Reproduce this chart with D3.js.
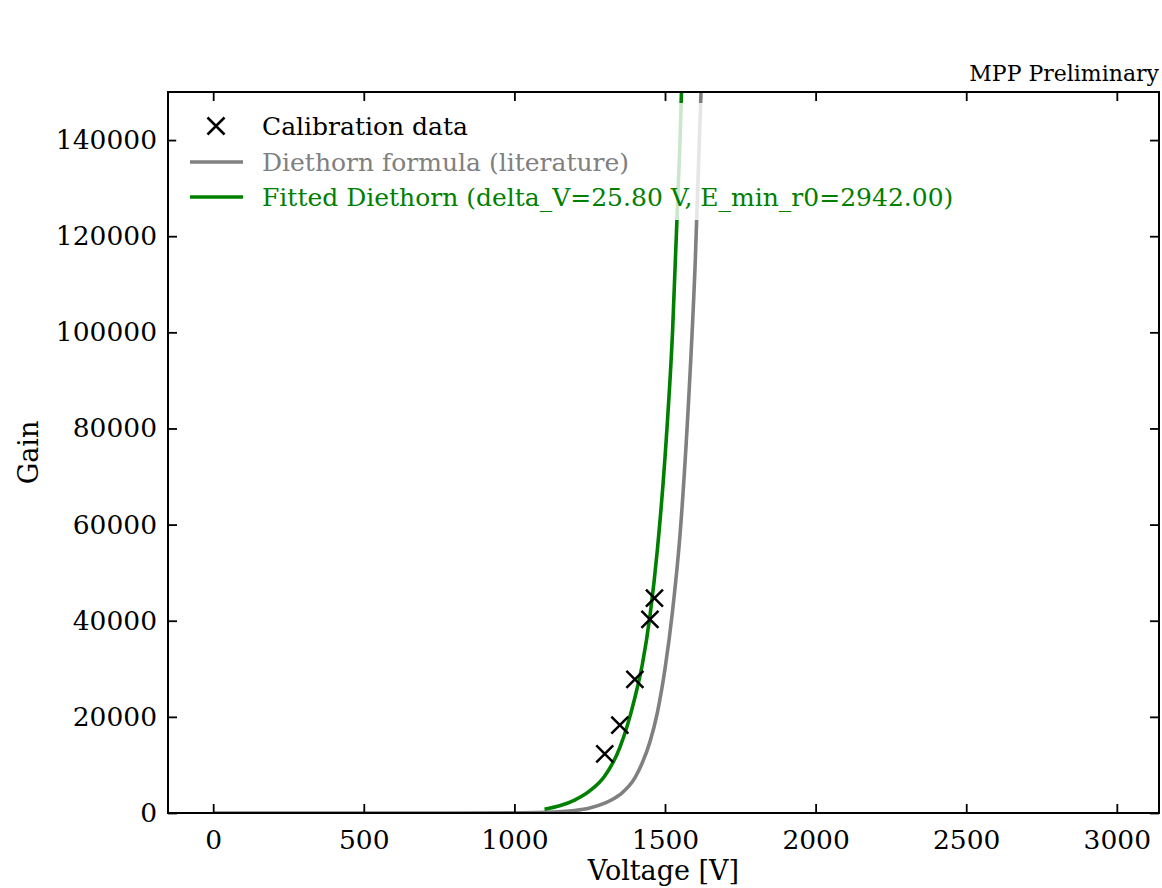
<!DOCTYPE html>
<html><head><meta charset="utf-8">
<script src="https://cdn.jsdelivr.net/npm/d3@7"></script>
<style>
body{margin:0;background:#fff;}
svg text{font-family:"DejaVu Serif",serif;}
</style></head>
<body><svg id="chart" width="1162" height="888"></svg>
<script>
// Calibration data (crosses)
const calibV = [1300, 1350, 1400, 1450, 1465];
const calibG = [12300, 18300, 27800, 40300, 44700];
// Diethorn formula (literature) - grey curve
const litV = [0, 500, 800, 1000, 1100, 1200, 1250, 1300, 1350, 1400, 1425, 1450, 1475, 1500, 1525, 1550, 1575, 1600, 1625, 1650];
const litG = [0, 0, 10, 40, 140, 530, 1050, 2050, 3800, 7300, 10500, 14800, 21000, 30000, 42000, 58000, 82000, 114000, 160000, 225000];
// Fitted Diethorn - green curve
const fitV = [1100, 1150, 1200, 1250, 1300, 1350, 1400, 1425, 1450, 1475, 1500, 1525, 1550, 1575];
const fitG = [800, 1500, 2700, 4600, 7700, 13600, 24000, 31000, 41000, 55000, 74000, 100000, 140000, 195000];
const xTicks = [0, 500, 1000, 1500, 2000, 2500, 3000];
const yTicks = [0, 20000, 40000, 60000, 80000, 100000, 120000, 140000];
const legendLabels = ["Calibration data", "Diethorn formula (literature)", "Fitted Diethorn (delta_V=25.80 V, E_min_r0=2942.00)"];
const colors = {calib: "#000000", lit: "#808080", fit: "#008000"};

const svg = d3.select("#chart");
const L = 168, R = 1159, T = 92, B = 813;
const x = d3.scaleLinear().domain([-150, 3140]).range([L, R]);
const y = d3.scaleLinear().domain([0, 150000]).range([B, T]);

svg.append("defs").append("clipPath").attr("id", "clip")
  .append("rect").attr("x", L).attr("y", T).attr("width", R - L).attr("height", B - T);

const g = svg.append("g").attr("clip-path", "url(#clip)");
const line = d3.line().x(d => x(d[0])).y(d => y(d[1])).curve(d3.curveMonotoneX);

g.append("path").datum(litV.map((v, i) => [v, litG[i]]))
  .attr("d", line).attr("fill", "none").attr("stroke", colors.lit).attr("stroke-width", 3.6);
g.append("path").datum(fitV.map((v, i) => [v, fitG[i]]))
  .attr("d", line).attr("fill", "none").attr("stroke", colors.fit).attr("stroke-width", 3.6);

const ms = 8.5;
calibV.forEach((v, i) => {
  const cx = x(v), cy = y(calibG[i]);
  g.append("path").attr("d", `M${cx-ms},${cy-ms}L${cx+ms},${cy+ms}M${cx-ms},${cy+ms}L${cx+ms},${cy-ms}`)
    .attr("stroke", colors.calib).attr("stroke-width", 2.5).attr("fill", "none");
});

// axes with inward ticks
const tickLen = 9;
const fs = 26.5;
const axB = svg.append("g").attr("transform", `translate(0,${B})`)
  .call(d3.axisBottom(x).tickValues(xTicks).tickSizeInner(-tickLen).tickSizeOuter(0).tickPadding(17).tickFormat(d3.format("d")));
const axT = svg.append("g").attr("transform", `translate(0,${T})`)
  .call(d3.axisTop(x).tickValues(xTicks).tickSizeInner(-tickLen).tickSizeOuter(0).tickFormat(""));
const axL = svg.append("g").attr("transform", `translate(${L},0)`)
  .call(d3.axisLeft(y).tickValues(yTicks).tickSizeInner(-tickLen).tickSizeOuter(0).tickPadding(11).tickFormat(d3.format("d")));
const axR = svg.append("g").attr("transform", `translate(${R},0)`)
  .call(d3.axisRight(y).tickValues(yTicks).tickSizeInner(-tickLen).tickSizeOuter(0).tickFormat(""));
[axB, axT, axL, axR].forEach(a => {
  a.select(".domain").remove();
  a.selectAll(".tick line").attr("stroke", "#000").attr("stroke-width", 1.8);
  a.selectAll("text").attr("font-family", "DejaVu Serif").attr("font-size", fs).attr("fill", "#000");
});

// Legend with semi-transparent white background
const lg = svg.append("g");
lg.append("rect").attr("x", 176).attr("y", 103).attr("width", 786).attr("height", 117)
  .attr("fill", "#fff").attr("fill-opacity", 0.8);
const rows = [126, 162, 197];
{
  const cx = 216, cy = rows[0];
  lg.append("path").attr("d", `M${cx-ms},${cy-ms}L${cx+ms},${cy+ms}M${cx-ms},${cy+ms}L${cx+ms},${cy-ms}`)
    .attr("stroke", colors.calib).attr("stroke-width", 2.5);
}
lg.append("line").attr("x1", 190).attr("x2", 243).attr("y1", rows[1]).attr("y2", rows[1]).attr("stroke", colors.lit).attr("stroke-width", 3.6);
lg.append("line").attr("x1", 190).attr("x2", 243).attr("y1", rows[2]).attr("y2", rows[2]).attr("stroke", colors.fit).attr("stroke-width", 3.6);
const lcols = [colors.calib, colors.lit, colors.fit];
legendLabels.forEach((t, i) => {
  lg.append("text").attr("x", 262).attr("y", rows[i]).attr("dy", "0.35em")
    .attr("font-size", 25).attr("fill", lcols[i]).text(t);
});

// frame
svg.append("rect").attr("x", L).attr("y", T).attr("width", R - L).attr("height", B - T)
  .attr("fill", "none").attr("stroke", "#000").attr("stroke-width", 2);

// labels
svg.append("text").attr("x", (L + R) / 2).attr("y", 880).attr("text-anchor", "middle")
  .attr("font-size", 27).text("Voltage [V]");
svg.append("text").attr("transform", `translate(38,${(T + B) / 2}) rotate(-90)`).attr("text-anchor", "middle")
  .attr("font-size", 27).text("Gain");
svg.append("text").attr("x", R).attr("y", 81).attr("text-anchor", "end")
  .attr("font-size", 22).text("MPP Preliminary");
</script></body></html>
